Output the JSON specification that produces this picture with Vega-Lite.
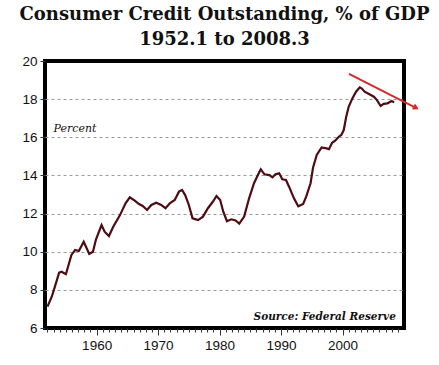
{
  "$schema": "https://vega.github.io/schema/vega-lite/v6.json",
  "width": 359,
  "height": 267,
  "autosize": "none",
  "padding": {"left": 45, "top": 61, "right": 35, "bottom": 37},
  "background": "white",
  "title": {
    "text": ["Consumer Credit Outstanding, % of GDP", "1952.1 to 2008.3"],
    "font": "DejaVu Serif",
    "fontSize": 18,
    "fontWeight": "bold",
    "lineHeight": 25,
    "color": "#111111",
    "anchor": "middle",
    "offset": 5
  },
  "config": {
    "view": {"stroke": "black", "strokeWidth": 4},
    "axis": {"labelFont": "Liberation Sans", "labelFontSize": 13.5, "labelColor": "#111111", "tickColor": "#333333", "domain": false}
  },
  "datasets": {
    "series": [
      {"year": 1952.0, "pct": 7.12}, {"year": 1952.7, "pct": 7.64}, {"year": 1953.2, "pct": 8.16},
      {"year": 1953.9, "pct": 8.9}, {"year": 1954.3, "pct": 8.95}, {"year": 1955.0, "pct": 8.82},
      {"year": 1955.9, "pct": 9.83}, {"year": 1956.5, "pct": 10.09}, {"year": 1957.1, "pct": 10.04},
      {"year": 1957.9, "pct": 10.52}, {"year": 1958.8, "pct": 9.88}, {"year": 1959.4, "pct": 10.0},
      {"year": 1959.9, "pct": 10.65}, {"year": 1960.8, "pct": 11.4}, {"year": 1961.3, "pct": 11.05},
      {"year": 1962.0, "pct": 10.82}, {"year": 1962.7, "pct": 11.31}, {"year": 1963.8, "pct": 11.92},
      {"year": 1964.7, "pct": 12.54}, {"year": 1965.4, "pct": 12.85}, {"year": 1966.2, "pct": 12.68},
      {"year": 1966.9, "pct": 12.5}, {"year": 1967.5, "pct": 12.4}, {"year": 1968.2, "pct": 12.19},
      {"year": 1968.9, "pct": 12.45}, {"year": 1969.7, "pct": 12.57}, {"year": 1970.5, "pct": 12.45},
      {"year": 1971.2, "pct": 12.28}, {"year": 1971.9, "pct": 12.54}, {"year": 1972.7, "pct": 12.71},
      {"year": 1973.4, "pct": 13.15}, {"year": 1973.9, "pct": 13.24}, {"year": 1974.4, "pct": 12.97},
      {"year": 1975.0, "pct": 12.45}, {"year": 1975.6, "pct": 11.75}, {"year": 1976.5, "pct": 11.66},
      {"year": 1977.3, "pct": 11.84}, {"year": 1978.1, "pct": 12.28}, {"year": 1978.9, "pct": 12.62},
      {"year": 1979.5, "pct": 12.92}, {"year": 1980.1, "pct": 12.71}, {"year": 1980.6, "pct": 12.1},
      {"year": 1981.2, "pct": 11.6}, {"year": 1981.9, "pct": 11.7}, {"year": 1982.6, "pct": 11.64},
      {"year": 1983.2, "pct": 11.47}, {"year": 1984.0, "pct": 11.84}, {"year": 1984.8, "pct": 12.8},
      {"year": 1985.6, "pct": 13.59}, {"year": 1986.5, "pct": 14.2}, {"year": 1986.7, "pct": 14.32},
      {"year": 1987.3, "pct": 14.06}, {"year": 1988.1, "pct": 14.02}, {"year": 1988.6, "pct": 13.9},
      {"year": 1989.1, "pct": 14.06}, {"year": 1989.7, "pct": 14.11}, {"year": 1990.2, "pct": 13.8},
      {"year": 1990.8, "pct": 13.76}, {"year": 1991.3, "pct": 13.41}, {"year": 1992.1, "pct": 12.8},
      {"year": 1992.8, "pct": 12.38}, {"year": 1993.6, "pct": 12.5}, {"year": 1994.1, "pct": 12.9},
      {"year": 1994.8, "pct": 13.59}, {"year": 1995.2, "pct": 14.4}, {"year": 1995.8, "pct": 15.07},
      {"year": 1996.6, "pct": 15.47}, {"year": 1997.4, "pct": 15.42}, {"year": 1997.8, "pct": 15.38},
      {"year": 1998.3, "pct": 15.71}, {"year": 1998.8, "pct": 15.82}, {"year": 1999.4, "pct": 16.03},
      {"year": 1999.8, "pct": 16.12}, {"year": 2000.2, "pct": 16.38}, {"year": 2000.6, "pct": 17.08},
      {"year": 2001.0, "pct": 17.6}, {"year": 2001.6, "pct": 18.04}, {"year": 2002.2, "pct": 18.39},
      {"year": 2002.8, "pct": 18.62}, {"year": 2003.1, "pct": 18.57}, {"year": 2003.6, "pct": 18.39},
      {"year": 2004.3, "pct": 18.27}, {"year": 2005.1, "pct": 18.13}, {"year": 2005.6, "pct": 17.95},
      {"year": 2006.2, "pct": 17.64}, {"year": 2006.7, "pct": 17.75}, {"year": 2007.3, "pct": 17.78},
      {"year": 2008.0, "pct": 17.9}, {"year": 2008.4, "pct": 17.83}
    ],
    "arrow": [{"x1": 2001.05, "y1": 19.32, "x2": 2012.1, "y2": 17.52}],
    "noteLeft": [{"year": 1953.0, "pct": 16.43, "label": "Percent"}],
    "noteRight": [{"year": 2008.67, "pct": 6.58, "label": "Source: Federal Reserve"}]
  },
  "layer": [
    {
      "data": {"name": "series"},
      "mark": {"type": "line", "color": "#4e0c12", "strokeWidth": 2.2},
      "encoding": {
        "x": {
          "field": "year", "type": "quantitative",
          "scale": {"domain": [1951.6, 2010], "nice": false, "zero": false},
          "axis": {
            "title": null, "grid": false,
            "tickCount": 200,
            "values": [1952,1953,1954,1955,1956,1957,1958,1959,1960,1961,1962,1963,1964,1965,1966,1967,1968,1969,1970,1971,1972,1973,1974,1975,1976,1977,1978,1979,1980,1981,1982,1983,1984,1985,1986,1987,1988,1989,1990,1991,1992,1993,1994,1995,1996,1997,1998,1999,2000,2001,2002,2003,2004,2005,2006,2007,2008,2009],
            "labelExpr": "datum.value % 10 === 0 ? datum.value : ''",
            "tickSize": {"condition": {"test": "datum.value % 10 === 0", "value": 7}, "value": 4},
            "labelPadding": 3,
            "labelFlush": false,
            "labelOverlap": false
          }
        },
        "y": {
          "field": "pct", "type": "quantitative",
          "scale": {"domain": [6, 20], "nice": false, "zero": false},
          "axis": {
            "title": null,
            "tickCount": 50,
            "format": "d",
            "values": [6, 8, 10, 12, 14, 16, 18, 20],
            "tickSize": 5,
            "labelPadding": 3,
            "labelOverlap": false,
            "grid": true,
            "gridDash": [3, 3],
            "gridColor": "#9a9a9a",
            "gridWidth": 1,
            "gridOpacity": {"condition": {"test": "datum.value === 6 || datum.value === 20", "value": 0}, "value": 1}
          }
        }
      }
    },
    {
      "data": {"name": "arrow"},
      "mark": {"type": "rule", "color": "#d42a2a", "strokeWidth": 2},
      "encoding": {
        "x": {"field": "x1", "type": "quantitative"},
        "y": {"field": "y1", "type": "quantitative"},
        "x2": {"field": "x2"},
        "y2": {"field": "y2"}
      }
    },
    {
      "data": {"name": "arrow"},
      "mark": {"type": "point", "shape": "M-1,-0.6L0,0L-1,0.6", "filled": false, "color": "#d42a2a", "strokeWidth": 2, "size": 60, "angle": 27, "opacity": 1},
      "encoding": {
        "x": {"field": "x2", "type": "quantitative"},
        "y": {"field": "y2", "type": "quantitative"}
      }
    },
    {
      "data": {"name": "noteLeft"},
      "mark": {"type": "text", "font": "DejaVu Serif", "fontStyle": "italic", "fontSize": 11, "color": "#111111", "baseline": "middle", "align": "left"},
      "encoding": {
        "x": {"field": "year", "type": "quantitative"},
        "y": {"field": "pct", "type": "quantitative"},
        "text": {"field": "label"}
      }
    },
    {
      "data": {"name": "noteRight"},
      "mark": {"type": "text", "font": "DejaVu Serif", "fontStyle": "italic", "fontWeight": "bold", "fontSize": 10.5, "color": "#111111", "baseline": "middle", "align": "right"},
      "encoding": {
        "x": {"field": "year", "type": "quantitative"},
        "y": {"field": "pct", "type": "quantitative"},
        "text": {"field": "label"}
      }
    }
  ]
}
